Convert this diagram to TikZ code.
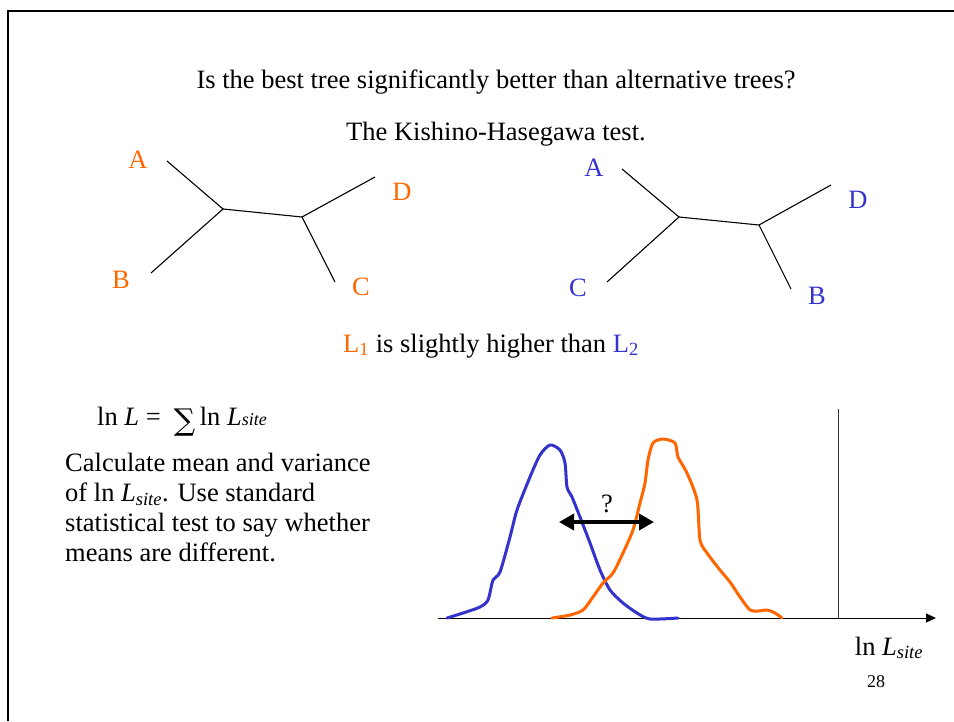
\documentclass[tikz,border=0pt]{standalone}
\usepackage{fontspec}
\setmainfont{Liberation Serif}
\newfontfamily\sigmafont{DejaVu Serif}
\usepackage{xcolor}
\usetikzlibrary{arrows.meta,positioning}

\definecolor{treeorange}{RGB}{255,102,0}
\definecolor{treeblue}{RGB}{51,51,204}

\begin{document}
\begin{tikzpicture}[
    x=1pt, y=-1pt,
    slidetext/.style={inner sep=0pt, font=\fontsize{26.5}{30}\selectfont},
    taxon/.style={slidetext, text=#1},
    branch/.style={line width=1.1pt, black},
    density/.style={line width=3pt, #1, line join=round, line cap=round},
]
\useasboundingbox (0,0) rectangle (954,721);

% slide frame
\draw[line width=2.8pt] (8,721) |- (954,11);

% headings
\node[slidetext, anchor=base] (title) at (496,88) {Is the best tree significantly better than alternative trees?};
\node[slidetext, anchor=base] (subtitle) at (496,140) {The Kishino-Hasegawa test.};

% first tree
\coordinate (u1) at (223,209);
\coordinate (u2) at (302,217);
\coordinate (a1) at (167,161);
\coordinate (b1) at (151,273);
\coordinate (c1) at (335,282);
\coordinate (d1) at (375,177);
\draw[branch] (a1) -- (u1) -- (b1);
\draw[branch] (u1) -- (u2);
\draw[branch] (d1) -- (u2) -- (c1);
\node[taxon=treeorange] (la1) at (138,160) {A};
\node[taxon=treeorange] (lb1) at (121,280) {B};
\node[taxon=treeorange] (lc1) at (361,287) {C};
\node[taxon=treeorange] (ld1) at (402,192) {D};

% second tree
\coordinate (v1) at (679,217);
\coordinate (v2) at (759,225);
\coordinate (a2) at (622,169);
\coordinate (c2) at (607,282);
\coordinate (b2) at (791,289);
\coordinate (d2) at (831,185);
\draw[branch] (a2) -- (v1) -- (c2);
\draw[branch] (v1) -- (v2);
\draw[branch] (d2) -- (v2) -- (b2);
\node[taxon=treeblue] (la2) at (594,168) {A};
\node[taxon=treeblue] (lc2) at (578,288) {C};
\node[taxon=treeblue] (lb2) at (817,296) {B};
\node[taxon=treeblue] (ld2) at (858,200) {D};

% comparison of the two likelihoods
\node[slidetext, anchor=base] (compare) at (491,352)
  {\textcolor{treeorange}{L\textsubscript{1}} is slightly higher than \textcolor{treeblue}{L\textsubscript{2}}};

% sum over sites
\node[slidetext, anchor=base west] (formula) at (97,425)
  {ln \textit{L} = \ {\sigmafont\fontsize{30}{30}\selectfont\raisebox{-5pt}{∑}}\,ln \textit{L\fontsize{18}{18}\selectfont site}};
\node[slidetext, anchor=north west, align=left] (explain) at (65,453)
  {Calculate mean and variance\\
   of ln \textit{L\textsubscript{site}}. Use standard\\
   statistical test to say whether\\
   means are different.};

% axes
\coordinate (origin) at (438,618);
\coordinate (xend) at (936,618);
\coordinate (wall) at (838,409);
\draw[line width=1pt, -{Triangle[length=10pt, width=9pt]}] (origin) -- (xend);
\draw[line width=1pt, black!80] (wall) -- (wall |- origin);
\node[slidetext, anchor=base] (xlabel) at (889,655) {ln \textit{L\textsubscript{site}}};
\node[inner sep=0pt, anchor=base, font=\fontsize{18}{18}\selectfont] (page) at (876,687) {28};

% site likelihood distributions
\draw[density=treeblue] plot[smooth, tension=0.45] coordinates {
  (447,618) (463,613) (480,607) (488,600) (493,580) (500,572) (510,537)
  (517,510) (530,477) (540,455) (550,445) (560,450) (565,463) (567,487)
  (572,497) (580,517) (590,543) (600,570) (610,590) (623,603) (637,613)
  (650,619) (678,618)};
\draw[density=treeorange] plot[smooth, tension=0.45] coordinates {
  (552,618) (570,615) (583,610) (593,597) (603,583) (613,573) (623,553)
  (633,530) (640,503) (645,483) (648,460) (653,443) (663,439) (675,443)
  (678,457) (687,473) (697,500) (700,540) (707,553) (720,570) (730,582)
  (740,597) (750,610) (758,611) (767,610) (775,613) (782,618)};

% difference of means
\coordinate (gapL) at (559,522);
\coordinate (gapR) at (654,522);
\draw[line width=3.5pt, {Triangle[length=15pt, width=16pt]}-{Triangle[length=15pt, width=16pt]}] (gapL) -- (gapR);
\node[slidetext, anchor=base] (query) at (607,512) {?};

\end{tikzpicture}
\end{document}
